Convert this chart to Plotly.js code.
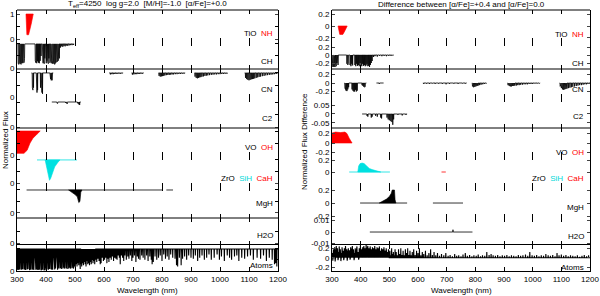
<!DOCTYPE html>
<html><head><meta charset="utf-8">
<script src="https://cdn.plot.ly/plotly-3.0.1.min.js"></script>
<style>body{margin:0;background:#fff}#chart{width:600px;height:296px}</style>
</head><body><div id="chart"></div>
<script>
// ---------------- DATA ----------------
const wavelengthTicks = [300,400,500,600,700,800,900,1000,1100,1200];
const leftTitle = 'T<sub>eff</sub>=4250&nbsp;&nbsp;log g=2.0&nbsp;&nbsp;[M/H]=-1.0&nbsp;&nbsp;[α/Fe]=+0.0';
const rightTitle = 'Difference between [α/Fe]=+0.4 and [α/Fe]=0.0';
const bandLabels = ['TiO&nbsp;&nbsp;<span style="color:#ff0000">NH</span>','CH','CN','C2',
  'VO&nbsp;&nbsp;<span style="color:#ff0000">OH</span>',
  'ZrO&nbsp;&nbsp;<span style="color:#00d8d8">SiH</span>&nbsp;&nbsp;<span style="color:#ff0000">CaH</span>',
  'MgH','H2O','Atoms'];

// LEFT: normalized flux  ([wavelength nm, flux])
const nhPoly = [[331,1],[356,1],[349,0.6],[344,0.3],[340,0.17],[334,0.17],[332,0.6]];
const chSegments = [[302,497]];
const chLines = [[304,.2],[306,.15],[308,.2],[310,.18],[312,.22],[314,.15],[316,.2],[318,.25],[320,.2],[322,.3],[324,.22],[326,.4],
 [363,.3],[365,.22],[368,.2],[371,.28],[374,.22],[377,.2],[380,.3],[383,.5],
 [388,.25],[390,.2],[392,.3],[394,.18],[396,.4],[399,.22],[401,.2],[403,.3],[406,.25],[408,.18],[410,.4],[413,.22],[415,.28],[418,.2],[420,.25],[422,.18],[424,.3],[426,.2],[428,.17],[430,.15],[432,.2],[434,.22],[436,.3],[438,.25],[440,.35],[442,.3],[444,.5],[446,.4],
 [450,.85],[454,.9],[458,.88],[462,.92],[466,.9],[470,.93],[475,.92],[480,.94],[485,.95],[490,.95],[495,.96]];
const cnSegments = [[350,425],[618,666],[695,737],[788,880],[912,1026],[1085,1200]];
const cnLines = [[353,.4],[355,.3],[357,.4],[367,.25],[369,.2],[371,.3],[381,.4],[384,.3],[386,.2],[388,.15],
 [414,.8],[416,.75],[418,.7],[420,.72],[421,.7],
 [622,.94],[627,.95],[632,.95],[637,.96],[642,.96],[647,.97],[652,.97],[657,.97],[662,.98],
 [698,.93],[703,.94],[708,.95],[713,.95],[718,.96],[723,.96],[728,.97],[733,.97],
 [790,.88],[794,.85],[798,.86],[802,.87],[806,.88],[810,.9],[815,.91],[820,.92],[825,.92],[830,.93],[835,.94],[840,.94],[846,.95],[852,.95],[858,.96],[864,.96],[870,.97],[876,.97],
 [914,.85],[918,.8],[922,.78],[926,.8],[930,.82],[934,.83],[938,.85],[943,.86],[948,.88],[953,.89],[958,.9],[964,.91],[970,.92],[976,.93],[982,.94],[988,.94],[994,.95],[1000,.95],[1006,.96],[1012,.96],[1018,.97],[1024,.97],
 [1088,.8],[1092,.75],[1096,.72],[1100,.7],[1104,.72],[1108,.74],[1112,.75],[1116,.76],[1120,.78],[1125,.8],[1130,.82],[1135,.84],[1140,.85],[1146,.87],[1152,.88],[1158,.9],[1164,.91],[1170,.92],[1176,.93],[1182,.94],[1188,.95],[1194,.96]];
const c2Segments = [[420,520]];
const c2Lines = [[436,.97],[438,.95],[440,.94],[468,.96],[471,.94],[473,.92],[509,.95],[512,.92],[514,.9],[516,.88]];
const ohPoly = [[300,1],[380,1],[369,0.87],[355,0.7],[345,0.5],[335,0.2],[324,0.07],[300,0.07]];
const sihSegments = [[369,507]];
const sihPoly = [[397,1],[405,0.6],[412,0.12],[416,0.2],[422,0.45],[430,0.7],[440,0.88],[448,1]];
const mghSegments = [[333,803],[815,838]];
const mghPoly = [[478,1],[490,0.9],[500,0.8],[508,0.7],[513,0.45],[517,0.5],[520,0.9],[524,1]];
const atomSegments = [[300,1200]];
const atomLines = [[301,.05],[303,.1],[306,.04],[308,.15],[310,.06],[313,.2],[315,.05],[318,.1],[320,.08],[323,.3],[325,.05],[328,.12],[330,.04],[333,.2],[335,.06],[338,.08],[340,.15],[343,.04],[345,.1],[348,.05],[350,.2],[353,.06],[355,.1],[358,.04],[360,.08],[363,.15],[365,.05],[368,.1],[370,.06],[373,.04],[375,.12],[378,.05],[380,.1],[383,.03],[385,.08],[388,.05],[390,.25],[393,.02],[395,.3],[397,.03],[400,.1],[403,.06],[405,.12],[408,.05],[410,.15],[413,.08],[415,.2],[418,.06],[420,.1],[423,.05],[425,.12],[428,.08],[430,.06],[433,.1],[435,.15],[438,.07],[440,.05],[443,.2],[445,.1],[448,.3],[450,.12],[453,.08],[455,.2],[458,.1],[460,.25],[463,.15],[465,.1],[468,.3],[470,.12],[473,.08],[475,.2],[478,.1],[480,.25],[483,.15],[485,.1],[488,.2],[490,.12],[493,.3],[495,.1],[498,.2],
 [501,.15],[504,.3],[507,.2],[510,.35],[513,.25],[516,.1],[518,.08],[520,.3],[523,.2],[526,.35],[529,.25],[532,.4],[535,.3],[538,.2],[541,.45],[544,.3],[547,.35],[550,.25],[553,.4],[556,.3],[559,.5],[562,.35],[565,.45],[568,.3],[571,.5],[575,.4],[579,.55],[583,.45],[587,.3],[590,.35],[594,.6],[598,.45],[602,.5],[606,.6],[610,.35],[614,.55],[617,.4],[621,.6],[625,.5],[629,.65],[633,.45],[637,.6],[641,.55],[645,.5],[649,.7],[653,.6],[656,.3],[660,.7],
 [664,.6],[668,.45],[672,.7],[677,.5],[682,.65],[686,.55],[691,.7],[696,.45],[700,.6],[705,.7],[710,.4],[715,.65],[719,.55],[724,.5],[730,.7],[735,.6],[741,.5],[747,.7],[752,.45],[758,.65],[763,.5],[766,.3],[770,.4],[776,.65],[782,.5],[788,.6],[794,.7],[800,.45],[806,.75],[812,.55],[818,.65],[824,.5],[830,.75],[837,.6],[845,.55],[850,.25],[854,.2],[860,.6],[866,.25],[871,.55],[878,.65],[885,.5],[892,.7],[900,.6],[908,.55],[915,.7],[923,.45],[930,.6],[938,.7],[946,.5],[954,.6],[962,.75],[970,.5],[980,.6],[990,.75],[998,.5],[1005,.65],[1015,.45],[1025,.7],[1033,.6],[1040,.5],[1050,.65],[1058,.7],[1065,.45],[1075,.6],[1085,.55],[1095,.65],[1105,.7],[1115,.5],[1128,.6],[1140,.55],[1150,.7],[1160,.45],[1170,.6],[1180,.5],[1188,.3],[1192,.35],[1196,.2]];

// RIGHT: flux difference ([wavelength nm, difference])
const nhDiffPoly = [[321,0],[353,0],[345,-0.08],[338,-0.14],[327,-0.14],[323,-0.07]];
const chDiffSegments = [[300,515]];
const chDiffLines = [[301,-.28],[303,-.3],[305,-.25],[307,-.3],[309,-.27],[311,-.3],[313,-.22],[315,-.28],[317,-.2],[321,-.25],[352,-.22],[355,-.25],[357,-.2],[363,-.25],[366,-.28],[369,-.22],[372,-.26],[380,-.25],[383,-.28],[386,-.22],[389,-.27],[392,-.25],[395,-.28],[398,-.2],[401,-.26],[404,-.28],[407,-.22],[410,-.27],[413,-.25],[416,-.28],[419,-.26],[422,-.22],[425,-.28],[428,-.27],[431,-.3],[434,-.25],[437,-.2],[440,-.15],[445,-.05],[450,-.03],[458,-.04],[466,-.02],[474,-.03],[482,-.02],[490,-.03],[498,-.02],[506,-.02],[512,-.01]];
const cnDiffSegments = [[343,420],[455,480],[617,770],[788,840],[912,1026],[1094,1200]];
const cnDiffLines = [[345,-.12],[347,-.15],[349,-.18],[352,-.19],[355,-.15],[358,-.1],[370,-.15],[373,-.18],[376,-.2],[379,-.2],[382,-.16],[385,-.2],[388,-.18],[405,-.05],[408,-.07],[411,-.09],[414,-.1],[416,-.08],[465,-.02],
 [620,-.02],[630,-.015],[640,-.02],[650,-.01],[660,-.02],[672,-.015],[685,-.02],[698,-.03],[710,-.02],[725,-.015],[740,-.02],[755,-.01],[765,-.015],
 [790,-.08],[794,-.1],[798,-.09],[802,-.08],[806,-.07],[810,-.06],[815,-.05],[820,-.04],[826,-.03],[832,-.02],[838,-.01],
 [914,-.05],[918,-.07],[922,-.08],[926,-.08],[930,-.07],[934,-.07],[938,-.06],[943,-.06],[948,-.05],[953,-.05],[958,-.04],[964,-.04],[970,-.03],[976,-.03],[982,-.03],[988,-.02],[994,-.02],[1000,-.02],[1008,-.01],[1016,-.01],[1024,-.01],
 [1096,-.08],[1100,-.12],[1104,-.15],[1108,-.16],[1112,-.15],[1116,-.14],[1120,-.13],[1125,-.12],[1130,-.11],[1135,-.1],[1140,-.09],[1146,-.08],[1152,-.07],[1158,-.06],[1164,-.05],[1170,-.05],[1176,-.04],[1182,-.03],[1188,-.03],[1194,-.02]];
const c2DiffSegments = [[405,562]];
const c2DiffLines = [[422,-.01],[425,-.015],[437,-.02],[440,-.015],[452,-.01],[458,-.015],[470,-.02],[473,-.025],[492,-.02],[496,-.03],[500,-.035],[505,-.04],[509,-.045],[512,-.06],[515,-.03],[530,-.005],[545,-.008],[558,-.005]];
const ohDiffPoly = [[300,0],[300,0.21],[312,0.23],[330,0.22],[345,0.23],[352,0.2],[360,0.1],[370,0]];
const sihDiffSegments = [[360,502]];
const sihDiffPoly = [[390,0],[393,0.1],[398,0.14],[405,0.15],[412,0.14],[420,0.1],[430,0.06],[440,0.04],[455,0.02],[470,0]];
const cahDiffSegments = [[682,697]];
const mghDiffSegments = [[398,562],[652,757]];
const mghDiffPoly = [[465,0],[480,0.03],[490,0.06],[500,0.1],[507,0.15],[510,0.2],[518,0.2],[520,0.05],[523,0]];
const h2oDiffSegments = [[432,790]];
const h2oDiffLines = [[722,0.002]];
const atomDiffSegments = [[300,1200]];
const atomDiffLines = [[301,.1],[303,-.06],[305,.18],[307,.05],[309,.22],[311,-.08],[313,.15],[315,.25],[317,.05],[319,.2],[321,-.05],[323,.12],[325,.24],[327,.08],[329,.18],[331,-.07],[333,.1],[335,.22],[337,.05],[339,.15],[341,-.05],[343,.2],[345,.1],[347,.25],[349,.06],[351,.18],[353,-.06],[355,.12],[357,.2],[359,.05],[361,.16],[363,-.04],[365,.22],[367,.08],[369,.14],[371,.25],[373,.05],[375,.18],[377,-.05],[379,.1],[381,.2],[383,.06],[385,.15],[387,.24],[389,.05],[391,.12],[393,-.04],[395,.2],[397,.08],[399,.26],[401,.1],[403,.18],[405,.06],[407,.22],[409,.12],[411,.25],[413,.05],[415,.2],[417,.1],[419,.27],[421,.08],[423,.18],[425,.25],[427,.1],[429,.2],[431,.06],[433,.24],[435,.12],[437,.18],[439,.05],[441,.22],[443,.1],[445,.2],[447,.06],[449,.25],[451,.1],[453,.18],[455,.05],[457,.22],[459,.12],[461,.2],[463,.06],[465,.24],[467,.1],[469,.15],[471,.05],[473,.2],[475,.08],[477,.18],[479,.05],[481,.22],[483,.1],[485,.15],[487,.04],[489,.2],[491,.08],[493,.12],[495,.05],[497,.18],[499,.06],[502,.15],[505,.05],[508,.2],[511,.08],[514,.12],[517,.05],[520,.18],
 [524,.12],[528,.05],[532,.18],[536,.08],[540,.2],[544,.06],[548,.15],[552,.05],[556,.18],[560,.1],[564,.2],[568,.06],[572,.15],[576,.05],[580,.12],[585,.18],[590,.06],[595,.15],[600,.1],[605,.2],[610,.05],[615,.12],[620,.08],[626,.15],[632,.05],[638,.1],[644,.18],[650,.06],[656,.12],[662,.05],[668,.1],[675,.04],[682,.08],[690,.05],[697,.1],
 [705,.04],[712,.06],[720,.03],[728,.08],[735,.04],[742,.05],[750,.03],[757,.07],[765,.1],[772,.04],[780,.06],[788,.03],[795,.05],[803,.04],[810,.07],[818,.03],[825,.05],[833,.04],[840,.12],[848,.06],[855,.08],[862,.05],[870,.04],[878,.06],[886,.03],[894,.05],[902,.04],[910,.06],[918,.03],[926,.05],[934,.04],[942,.03],[950,.06],[958,.04],[966,.05],[975,.07],[983,.04],[990,.12],[998,.05],[1006,.04],[1014,.06],[1022,.03],[1030,.05],[1038,.04],[1046,.08],[1054,.05],[1062,.04],[1070,.06],[1078,.03],[1085,.1],[1092,.05],[1100,.07],[1108,.04],[1116,.06],[1124,.03],[1132,.05],[1140,.04],[1148,.03],[1156,.05],[1164,.02],[1172,.04],[1180,.06],[1188,.03],[1195,.05]];

// ---------------- LAYOUT HELPERS ----------------
const W = 600, H = 296, ML = 17, MR = 10, MT = 10, MB = 25;
const PW = W - ML - MR, PH = H - MT - MB;
const bandEdgesPx = [10,42,69,98,128,156,187,218,245,271];
const leftXDomain = [0, (278 - ML) / PW];
const rightXDomain = [(332 - ML) / PW, 1];
const leftRanges = [[-0.12,1.16],[-0.04,1.08],[-0.02,1.16],[-0.04,1.16],[-0.04,1.125],[-0.17,1.17],[-0.22,1.13],[-0.08,1.04],[-0.01,1.18]];
const rightRanges = [[-0.267,0.267],[-0.35,0.325],[-0.353,0.33],[-0.078,0.089],[-0.274,0.316],[-0.25,0.267],[-0.23,0.246],[-0.0113,0.0122],[-0.28,0.27]];
const rightTicks = [[-0.2,0,0.2],[-0.2,0,0.2],[-0.2,0,0.2],[-0.05,0,0.05],[-0.2,0,0.2],[0,0.2],[-0.2,0,0.2],[-0.01,0,0.01],[-0.2,0,0.2]];
const leftLabelY = [0.28,0.26,0.31,0.33,0.32,0.29,0.46,0.37,0.23];
const rightLabelY = [0.22,0.22,0.28,0.37,0.14,0.29,0.35,0.30,0.15];

const FONT = 'Liberation Sans, Arial, sans-serif';
const ax = n => n === 1 ? '' : String(n);
const px2py = py => (H - MB - py) / PH;

function spectrum(segments, lines, base) {
  const x = [], y = [], d = 0.7;
  segments.forEach(([a, b]) => {
    x.push(a); y.push(base);
    lines.filter(l => l[0] >= a && l[0] <= b).sort((p, q) => p[0] - q[0]).forEach(([w, v]) => {
      x.push(w - d, w, w + d); y.push(base, v, base);
    });
    x.push(b); y.push(base); x.push(null); y.push(null);
  });
  return {x, y};
}
const traces = [];
function addLine(n, xy, color, width) {
  traces.push({type:'scatter', mode:'lines', x: xy.x, y: xy.y, xaxis:'x'+ax(n), yaxis:'y'+ax(n),
    line:{color, width: width || 0.8}, hoverinfo:'skip', showlegend:false, connectgaps:false});
}
function addPoly(n, pts, color) {
  traces.push({type:'scatter', mode:'lines', x: pts.map(p=>p[0]).concat([pts[0][0]]), y: pts.map(p=>p[1]).concat([pts[0][1]]),
    xaxis:'x'+ax(n), yaxis:'y'+ax(n), fill:'toself', fillcolor:color, line:{color, width:0.6}, hoverinfo:'skip', showlegend:false});
}
function addEmpty(n) {
  traces.push({type:'scatter', mode:'lines', x:[null], y:[null], xaxis:'x'+ax(n), yaxis:'y'+ax(n), hoverinfo:'skip', showlegend:false});
}
const RED = '#ff0000', CYAN = '#00e0e0', BLACK = '#000000';

for (let n = 1; n <= 18; n++) addEmpty(n);
// left bands: axes 1..9
addPoly(1, nhPoly, RED);
addLine(2, spectrum(chSegments, chLines, 1), BLACK);
addLine(3, spectrum(cnSegments, cnLines, 1), BLACK);
addLine(4, spectrum(c2Segments, c2Lines, 1), BLACK);
addPoly(5, ohPoly, RED);
addLine(6, spectrum(sihSegments, [], 1), CYAN);
addPoly(6, sihPoly, CYAN);
addLine(7, spectrum(mghSegments, [], 1), BLACK);
addPoly(7, mghPoly, BLACK);
addLine(9, spectrum(atomSegments, atomLines, 1), BLACK, 1.1);
// right bands: axes 10..18
addPoly(10, nhDiffPoly, RED);
addLine(11, spectrum(chDiffSegments, chDiffLines, 0), BLACK);
addLine(12, spectrum(cnDiffSegments, cnDiffLines, 0), BLACK);
addLine(13, spectrum(c2DiffSegments, c2DiffLines, 0), BLACK);
addPoly(14, ohDiffPoly, RED);
addLine(15, spectrum(sihDiffSegments, [], 0), CYAN);
addPoly(15, sihDiffPoly, CYAN);
addLine(15, spectrum(cahDiffSegments, [], 0), RED);
addLine(16, spectrum(mghDiffSegments, [], 0), BLACK);
addPoly(16, mghDiffPoly, BLACK);
addLine(17, spectrum(h2oDiffSegments, h2oDiffLines, 0), BLACK);
addLine(18, spectrum(atomDiffSegments, atomDiffLines, 0), BLACK, 1.1);

const layout = {
  width: W, height: H, margin:{l:ML, r:MR, t:MT, b:MB},
  paper_bgcolor:'#fff', plot_bgcolor:'rgba(0,0,0,0)',
  font:{family:FONT, size:8, color:'#000'},
  showlegend:false, shapes:[], annotations:[]
};
for (let side = 0; side < 2; side++) {
  for (let i = 0; i < 9; i++) {
    const n = side * 9 + i + 1;
    const bottom = i === 8;
    const yd = [px2py(bandEdgesPx[i+1]), px2py(bandEdgesPx[i])];
    layout['xaxis'+ax(n)] = {
      domain: side ? rightXDomain : leftXDomain, anchor:'y'+ax(n), range:[300,1200],
      tickmode:'array', tickvals: wavelengthTicks, ticktext: wavelengthTicks.map(String),
      showticklabels: bottom, ticks:'inside', ticklen:4, tickwidth:1, tickcolor:'#000',
      mirror:'ticks', showline: bottom, linecolor:'#000', linewidth:1,
      showgrid:false, zeroline:false, fixedrange:true, tickfont:{size:8}
    };
    let tv, tt, minor;
    if (side === 0) {
      tv = i === 0 ? [0, 1] : [0]; tt = i === 0 ? ['0', '1'] : ['0'];
      minor = {tickmode:'array', tickvals: i === 0 ? [0.5] : [0.5, 1], ticks:'inside', ticklen:3, tickcolor:'#000', showgrid:false};
    } else { tv = rightTicks[i]; tt = tv.map(v => String(v)); }
    layout['yaxis'+ax(n)] = {
      domain: yd, anchor:'x'+ax(n), range: side ? rightRanges[i] : leftRanges[i],
      tickmode:'array', tickvals: tv, ticktext: tt, ticks:'inside', ticklen:3, tickwidth:1,
      showline:true, mirror:'ticks', linecolor:'#000', linewidth:1,
      showgrid:false, zeroline:false, fixedrange:true, tickfont:{size:8}
    };
    if (minor) layout['yaxis'+ax(n)].minor = minor;
    layout.annotations.push({xref:'x'+ax(n)+' domain', yref:'y'+ax(n)+' domain',
      x: side ? 0.985 : 0.99, y: side ? rightLabelY[i] : leftLabelY[i], xanchor:'right', yanchor:'middle',
      text: bandLabels[i], showarrow:false, font:{size:8, family:FONT}});
  }
}
// frame top lines and dividers
const dividers = [[1,1],[1,3],[1,6],[10,1],[10,3]];
[1,10].forEach(n => layout.shapes.push({type:'line', xref:'x'+ax(n)+' domain', yref:'y'+ax(n)+' domain', x0:0, x1:1, y0:1, y1:1, line:{color:'#000', width:1}}));
dividers.forEach(([base, i]) => { const n = base + i;
  layout.shapes.push({type:'line', xref:'x'+ax(n)+' domain', yref:'y'+ax(n)+' domain', x0:0, x1:1, y0:0, y1:0, line:{color:'#000', width:1}}); });
// titles
const pxX = x => (x - ML) / PW;
layout.annotations.push(
  {xref:'paper', yref:'paper', x:pxX(147), y:px2py(4), text:leftTitle, showarrow:false, font:{size:8}, xanchor:'center', yanchor:'middle'},
  {xref:'paper', yref:'paper', x:pxX(461), y:px2py(4), text:rightTitle, showarrow:false, font:{size:8}, xanchor:'center', yanchor:'middle'},
  {xref:'paper', yref:'paper', x:pxX(147), y:px2py(290), text:'Wavelength (nm)', showarrow:false, font:{size:8}, xanchor:'center', yanchor:'middle'},
  {xref:'paper', yref:'paper', x:pxX(461), y:px2py(290), text:'Wavelength (nm)', showarrow:false, font:{size:8}, xanchor:'center', yanchor:'middle'},
  {xref:'paper', yref:'paper', x:pxX(5), y:px2py(140), text:'Normalized Flux', showarrow:false, textangle:-90, font:{size:8}, xanchor:'center', yanchor:'middle'},
  {xref:'paper', yref:'paper', x:pxX(304), y:px2py(142), text:'Normalized Flux Difference', showarrow:false, textangle:-90, font:{size:8}, xanchor:'center', yanchor:'middle'}
);
Plotly.newPlot('chart', traces, layout, {staticPlot:true, displayModeBar:false});
</script></body></html>
